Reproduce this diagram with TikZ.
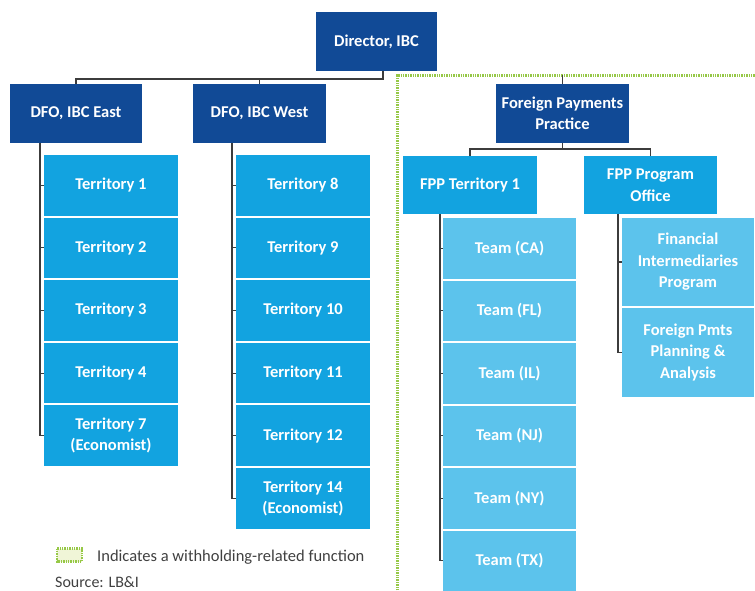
\documentclass[tikz,border=0pt]{standalone}
\usepackage{fontspec}
\setmainfont{Carlito}
\usetikzlibrary{positioning}
\definecolor{dkblue}{RGB}{17,74,150}
\definecolor{midblue}{RGB}{18,163,224}
\definecolor{ltblue}{RGB}{92,195,236}
\definecolor{wgreen}{RGB}{150,200,70}
\definecolor{wfill}{RGB}{240,245,215}
\definecolor{linegray}{RGB}{60,60,60}
\definecolor{txtgray}{RGB}{64,64,64}
\tikzset{
  box/.style={inner sep=0pt, outer sep=0pt, text=white, align=center,
    font=\fontsize{16.5}{21.5}\selectfont\bfseries},
  dkbox/.style={box, fill=dkblue},
  midbox/.style={box, fill=midblue},
  ltbox/.style={box, fill=ltblue},
  conn/.style={draw=linegray, line width=1.1pt},
  wborder/.style={draw=wgreen, line width=3pt, dash pattern=on 1.4pt off 1pt},
}
\begin{document}
\begin{tikzpicture}[x=1pt,y=-1pt]
\useasboundingbox (0,0) rectangle (755,591);
% green withholding border
\draw[wborder] (397,600) -- (397,75.5) -- (765,75.5);
% top levels
\node[dkbox, minimum width=121pt, minimum height=59pt] (dir) at (376.5,41.5) {Director, IBC};
\node[dkbox, minimum width=132pt, minimum height=59pt] (east) at (76,113.5) {DFO, IBC East};
\node[dkbox, minimum width=133pt, minimum height=59pt] (west) at (259.5,113.5) {DFO, IBC West};
\node[dkbox, minimum width=133pt, minimum height=59pt] (fpp) at (562.5,113.5) {Foreign Payments\\Practice};
\node[midbox, minimum width=134pt, minimum height=58pt] (fppt) at (470,185) {FPP Territory 1};
\node[midbox, minimum width=133pt, minimum height=58pt] (fppo) at (650.5,185) {FPP Program\\Office};
% East territories
\foreach \n/\t [count=\i from 0] in {e1/Territory 1, e2/Territory 2, e3/Territory 3, e4/Territory 4, e7/{Territory 7\\(Economist)}}
  \node[midbox, minimum width=134pt, minimum height=60.5pt] (\n) at (111,{185.25+62.6*\i}) {\t};
% West territories
\foreach \n/\t [count=\i from 0] in {w8/Territory 8, w9/Territory 9, w10/Territory 10, w11/Territory 11, w12/Territory 12, w14/{Territory 14\\(Economist)}}
  \node[midbox, minimum width=134pt, minimum height=60.5pt] (\n) at (303,{185.25+62.6*\i}) {\t};
% Teams
\foreach \n/\t [count=\i from 0] in {ca/Team (CA), fl/Team (FL), il/Team (IL), nj/Team (NJ), ny/Team (NY), tx/Team (TX)}
  \node[ltbox, minimum width=133pt, minimum height=60.5pt] (\n) at (509.5,{248.25+62.5*\i}) {\t};
% Program office units
\node[ltbox, minimum width=132pt, minimum height=88pt] (fip) at (688,262) {Financial\\Intermediaries\\Program};
\node[ltbox, minimum width=132pt, minimum height=89pt] (fpa) at (688,352.5) {Foreign Pmts\\Planning \&\\Analysis};
% connectors
\draw[conn] ([xshift=6.5pt]dir.south) -- ++(0,8) -| (east.north);
\draw[conn] (west.north) -- ++(0,-5);
\draw[conn] (fpp.north) -- ++(0,-9);
\draw[conn] (fpp.south) -- ++(0,6) -| (fppt.north);
\draw[conn] (fpp.south) ++(0,6) -| (fppo.north);
\draw[conn] ([xshift=-4pt]e1.west |- east.south) -- ([xshift=-4pt]e7.west) -- (e7.west);
\foreach \n in {e1,e2,e3,e4} \draw[conn] ([xshift=-4pt]\n.west) -- (\n.west);
\draw[conn] ([xshift=-4pt]w8.west |- west.south) -- ([xshift=-4pt]w14.west) -- (w14.west);
\foreach \n in {w8,w9,w10,w11,w12} \draw[conn] ([xshift=-4pt]\n.west) -- (\n.west);
\draw[conn] ([xshift=-3pt]ca.west |- fppt.south) -- ([xshift=-3pt]tx.west) -- (tx.west);
\foreach \n in {ca,fl,il,nj,ny} \draw[conn] ([xshift=-3pt]\n.west) -- (\n.west);
\draw[conn] ([xshift=-4pt]fip.west |- fppo.south) -- ([xshift=-4pt]fpa.west) -- (fpa.west);
\draw[conn] ([xshift=-4pt]fip.west) -- (fip.west);
% legend
\draw[wborder, fill=wfill, line width=2.4pt] (57,548.5) rectangle (82,561.5);
\node[anchor=base west, inner sep=0pt, text=txtgray, font=\fontsize{16.5}{20}\selectfont] (leg) at (97,561) {Indicates a withholding-related function};
\node[anchor=base west, inner sep=0pt, text=txtgray, font=\fontsize{16}{20}\selectfont] (src) at (55,587) {Source: LB\&I};
\end{tikzpicture}
\end{document}
